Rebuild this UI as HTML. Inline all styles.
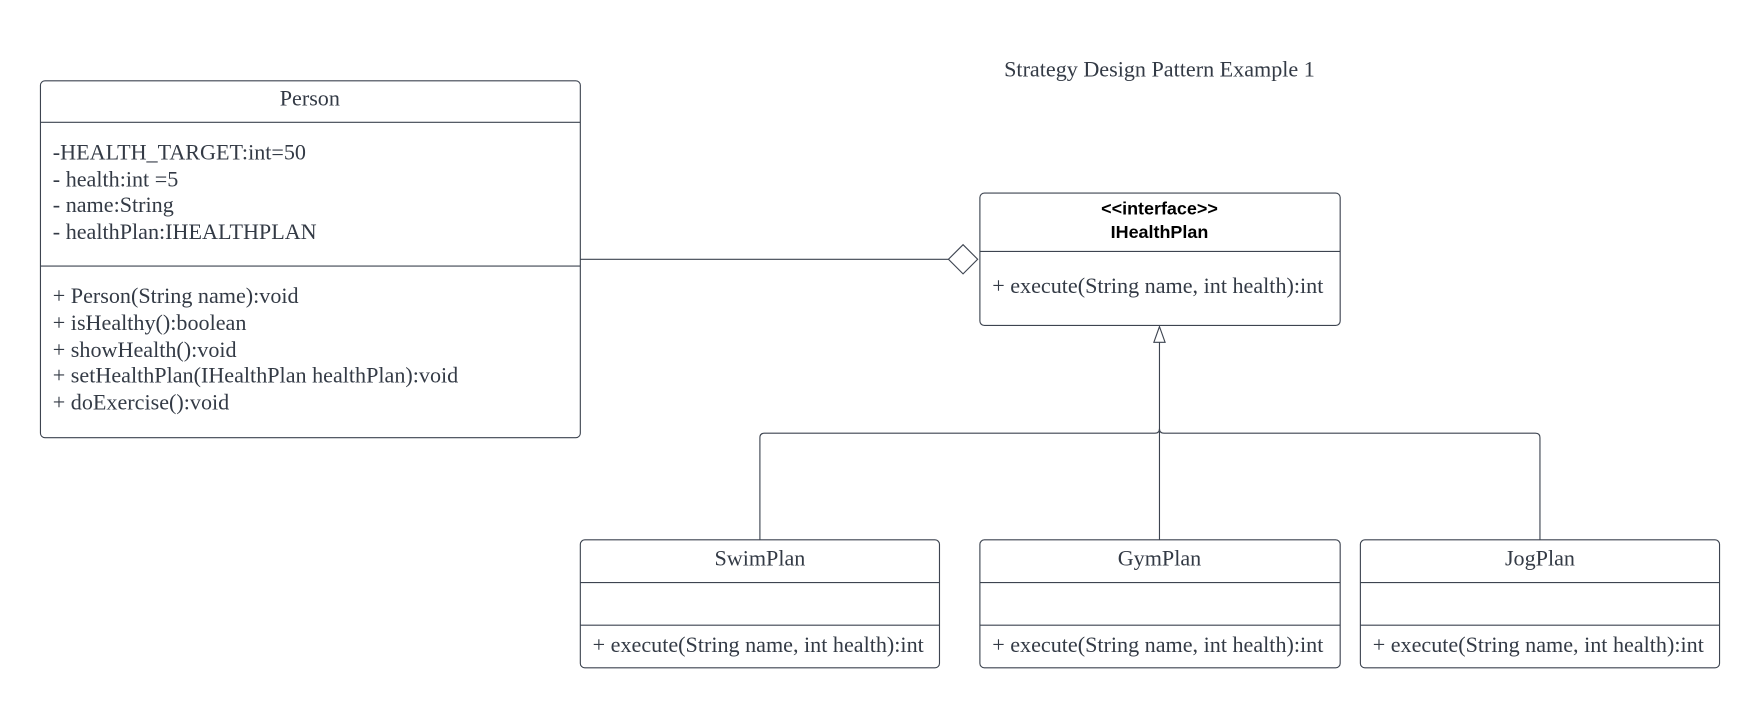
<!DOCTYPE html>
<html><head><meta charset="utf-8"><style>html,body{margin:0;padding:0;background:#fff}svg{display:block}</style></head>
<body>
<svg width="1760" height="708" viewBox="0 0 1568 630.8" xmlns="http://www.w3.org/2000/svg">
<g fill="none" stroke="#3d4450" stroke-width="1">
<rect x="36" y="72" width="481" height="318" rx="4"/>
<line x1="36" y1="109" x2="517" y2="109"/>
<line x1="36" y1="237" x2="517" y2="237"/>
<line x1="517" y1="231" x2="845" y2="231"/>
<path d="M845 231 L858 218 L871 231 L858 244 Z" fill="#fff"/>
<rect x="873" y="172" width="321" height="118" rx="4"/>
<line x1="873" y1="224" x2="1194" y2="224"/>
<path d="M1033 291 L1028 305 L1038 305 Z" fill="#fff"/>
<line x1="1033" y1="305" x2="1033" y2="481"/>
<path d="M677 481 L677 390 Q677 386 681 386 L1029 386 Q1033 386 1033 382 Q1033 386 1037 386 L1368 386 Q1372 386 1372 390 L1372 481"/>
<rect x="517" y="481" width="320" height="114" rx="4"/>
<line x1="517" y1="519" x2="837" y2="519"/>
<line x1="517" y1="557" x2="837" y2="557"/>
<rect x="873" y="481" width="321" height="114" rx="4"/>
<line x1="873" y1="519" x2="1194" y2="519"/>
<line x1="873" y1="557" x2="1194" y2="557"/>
<rect x="1212" y="481" width="320" height="114" rx="4"/>
<line x1="1212" y1="519" x2="1532" y2="519"/>
<line x1="1212" y1="557" x2="1532" y2="557"/>
</g>
<g font-family="'Liberation Serif', serif" font-size="19.7" fill="#333a45">
<text x="1033" y="68" text-anchor="middle">Strategy Design Pattern Example 1</text>
<text x="276" y="94" text-anchor="middle">Person</text>
<text x="47" y="142">-HEALTH_TARGET:int=50</text>
<text x="47" y="166">- health:int =5</text>
<text x="47" y="189">- name:String</text>
<text x="47" y="213">- healthPlan:IHEALTHPLAN</text>
<text x="47" y="270">+ Person(String name):void</text>
<text x="47" y="294">+ isHealthy():boolean</text>
<text x="47" y="318">+ showHealth():void</text>
<text x="47" y="341">+ setHealthPlan(IHealthPlan healthPlan):void</text>
<text x="47" y="365">+ doExercise():void</text>
<text x="884" y="261">+ execute(String name, int health):int</text>
<text x="677" y="504" text-anchor="middle">SwimPlan</text>
<text x="528" y="581">+ execute(String name, int health):int</text>
<text x="1033" y="504" text-anchor="middle">GymPlan</text>
<text x="884" y="581">+ execute(String name, int health):int</text>
<text x="1372" y="504" text-anchor="middle">JogPlan</text>
<text x="1223" y="581">+ execute(String name, int health):int</text>
</g>
<g font-family="'Liberation Sans', sans-serif" font-weight="bold" fill="#000" text-anchor="middle">
<text x="1033" y="191" font-size="16">&lt;&lt;interface&gt;&gt;</text>
<text x="1033" y="212" font-size="16">IHealthPlan</text>
</g>
</svg>
</body></html>
